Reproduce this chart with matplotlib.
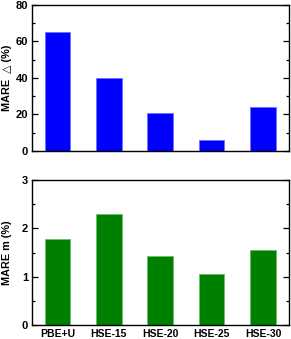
import matplotlib
matplotlib.use("Agg")
import matplotlib.pyplot as plt
from matplotlib.ticker import MultipleLocator

plt.rcParams["font.family"] = ["Liberation Sans", "DejaVu Sans"]
plt.rcParams["font.weight"] = "bold"

methods = ["PBE+U", "HSE-15", "HSE-20", "HSE-25", "HSE-30"]
mare_delta = [65.2, 40.2, 20.6, 6.2, 24.3]
mare_m = [1.77, 2.30, 1.42, 1.06, 1.55]

W, H = 291, 339
fig = plt.figure(figsize=(W / 100, H / 100), dpi=100)

def px_axes(x0, y0, x1, y1):
    return fig.add_axes([x0 / W, 1 - y1 / H, (x1 - x0) / W, (y1 - y0) / H])

ax1 = px_axes(31.7, 5, 288.7, 151)
ax2 = px_axes(31.7, 180, 288.7, 325)

pos = range(1, len(methods) + 1)


def style(ax, ymax, major, minor, ylabel):
    ax.set_xlim(0.5, len(methods) + 0.5)
    ax.set_ylim(0, ymax)
    ax.yaxis.set_major_locator(MultipleLocator(major))
    ax.yaxis.set_minor_locator(MultipleLocator(minor))
    ax.tick_params(axis="y", which="both", direction="in", right=True,
                   labelsize=8, width=0.9, pad=2.5)
    ax.tick_params(axis="y", which="major", length=4)
    ax.tick_params(axis="y", which="minor", length=2.5)
    ax.tick_params(axis="x", which="both", length=0, labelsize=7.5, pad=3)
    for s in ax.spines.values():
        s.set_linewidth(1.0)
    ax.set_ylabel(ylabel, fontsize=7.8, fontweight="bold")
    # ylabel anchor is its right edge (rotated text, va=bottom)
    ax.yaxis.set_label_coords(-0.078, 0.5)


ax1.bar(pos, mare_delta, width=0.5, color="#0000ff", edgecolor="#6f6fff", linewidth=0.6)
style(ax1, 80, 20, 10, "MARE  \u25b3 (%)")
ax1.set_xticks(list(pos))
ax1.set_xticklabels([])

ax2.bar(pos, mare_m, width=0.5, color="#008000", edgecolor="#66c066", linewidth=0.6)
style(ax2, 3, 1, 0.5, "MARE m (%)")
ax2.set_xticks(list(pos))
ax2.set_xticklabels(methods, fontweight="bold")

fig.savefig("out.png", dpi=100)
